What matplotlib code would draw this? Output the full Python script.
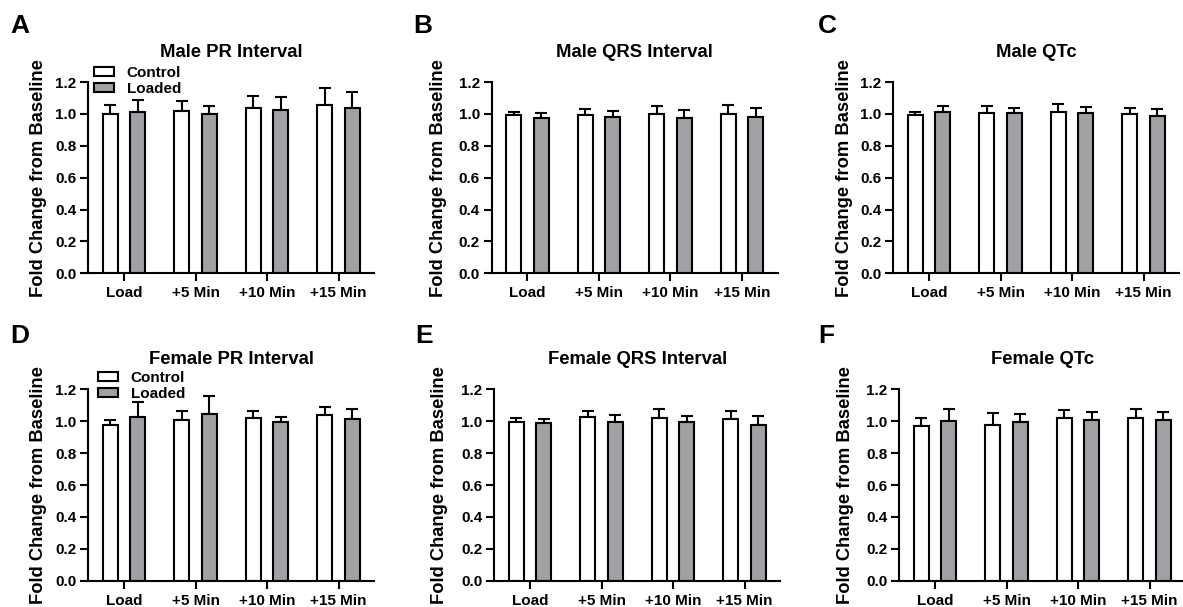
import matplotlib
matplotlib.use("Agg")
import matplotlib.pyplot as plt
import numpy as np
from matplotlib.patches import Patch

plt.rcParams['font.family'] = ['Liberation Sans', 'DejaVu Sans']
plt.rcParams['font.weight'] = 'bold'

categories = ["Load", "+5 Min", "+10 Min", "+15 Min"]
series_names = ["Control", "Loaded"]

titles = ["Male PR Interval", "Male QRS Interval", "Male QTc",
          "Female PR Interval", "Female QRS Interval", "Female QTc"]
letters = ["A", "B", "C", "D", "E", "F"]

# means (Control, Loaded) and upper error-bar tops
male_pr_control = [1.00, 1.02, 1.04, 1.055]
male_pr_loaded = [1.01, 1.00, 1.025, 1.04]
male_pr_control_err = [0.058, 0.058, 0.072, 0.108]
male_pr_loaded_err = [0.075, 0.052, 0.083, 0.098]

male_qrs_control = [0.99, 0.993, 0.997, 1.002]
male_qrs_loaded = [0.975, 0.98, 0.972, 0.98]
male_qrs_control_err = [0.022, 0.037, 0.05, 0.056]
male_qrs_loaded_err = [0.03, 0.04, 0.05, 0.058]

male_qtc_control = [0.99, 1.003, 1.01, 0.997]
male_qtc_loaded = [1.013, 1.003, 1.003, 0.984]
male_qtc_control_err = [0.02, 0.047, 0.053, 0.043]
male_qtc_loaded_err = [0.037, 0.032, 0.042, 0.049]

female_pr_control = [0.977, 1.008, 1.017, 1.042]
female_pr_loaded = [1.029, 1.044, 0.998, 1.012]
female_pr_control_err = [0.031, 0.057, 0.044, 0.044]
female_pr_loaded_err = [0.092, 0.117, 0.031, 0.065]

female_qrs_control = [0.994, 1.029, 1.023, 1.012]
female_qrs_loaded = [0.987, 0.994, 0.992, 0.979]
female_qrs_control_err = [0.025, 0.032, 0.052, 0.049]
female_qrs_loaded_err = [0.025, 0.046, 0.041, 0.054]

female_qtc_control = [0.971, 0.977, 1.017, 1.021]
female_qtc_loaded = [1.000, 0.998, 1.008, 1.008]
female_qtc_control_err = [0.05, 0.073, 0.054, 0.054]
female_qtc_loaded_err = [0.075, 0.046, 0.05, 0.048]

panels = [
    (male_pr_control, male_pr_loaded, male_pr_control_err, male_pr_loaded_err),
    (male_qrs_control, male_qrs_loaded, male_qrs_control_err, male_qrs_loaded_err),
    (male_qtc_control, male_qtc_loaded, male_qtc_control_err, male_qtc_loaded_err),
    (female_pr_control, female_pr_loaded, female_pr_control_err, female_pr_loaded_err),
    (female_qrs_control, female_qrs_loaded, female_qrs_control_err, female_qrs_loaded_err),
    (female_qtc_control, female_qtc_loaded, female_qtc_control_err, female_qtc_loaded_err),
]

W, H = 1183, 607
fig = plt.figure(figsize=(W / 100, H / 100), dpi=100)

# layout in pixels: (spine x, axis bottom y, axis top y)
spine_x = [88.3, 491.7, 893.3, 88.3, 494.3, 899.3]
bottoms = [273.3, 273.3, 273.3, 580.7, 580.7, 580.7]
tops = [82.0, 82.0, 82.0, 389.3, 389.3, 389.3]
axw = 286.0
ylabel_x = [-0.144, -0.156, -0.140, -0.144, -0.161, -0.160]
letter_pos = [(10, 33), (413, 33), (818, 33), (10, 342.7), (415, 342.7), (818, 342.7)]

gray = '#a0a0a5'
lw = 1.5
x = np.arange(len(categories))
off = 0.19
bw = 0.21

for i, (c, l, ce, le) in enumerate(panels):
    left = spine_x[i] / W
    bottom = 1 - bottoms[i] / H
    height = (bottoms[i] - tops[i]) / H
    ax = fig.add_axes([left, bottom, axw / W, height])
    b1 = ax.bar(x - off, c, bw, color='white', edgecolor='black', linewidth=lw, zorder=2)
    b2 = ax.bar(x + off, l, bw, color=gray, edgecolor='black', linewidth=lw, zorder=2)
    ax.errorbar(x - off, c, yerr=[np.zeros(4), ce], fmt='none', ecolor='black',
                elinewidth=lw, capsize=4, capthick=lw, zorder=1)
    ax.errorbar(x + off, l, yerr=[np.zeros(4), le], fmt='none', ecolor='black',
                elinewidth=lw, capsize=4, capthick=lw, zorder=1)
    ax.set_xlim(-0.5, 3.5)
    ax.set_ylim(0, 1.2)
    ax.set_yticks([0.0, 0.2, 0.4, 0.6, 0.8, 1.0, 1.2])
    ax.set_yticklabels(["0.0", "0.2", "0.4", "0.6", "0.8", "1.0", "1.2"])
    ax.set_xticks(x)
    ax.set_xticklabels(categories)
    for s in ['top', 'right']:
        ax.spines[s].set_visible(False)
    for s in ['left', 'bottom']:
        ax.spines[s].set_linewidth(lw)
    ax.spines['bottom'].set_zorder(3)
    ax.tick_params(axis='both', width=lw, length=5.5, labelsize=11, pad=3)
    ax.tick_params(axis='x', pad=4)
    for t in ax.get_xticklabels() + ax.get_yticklabels():
        t.set_fontweight('bold')
    ax.set_title(titles[i], fontsize=13.3, fontweight='bold', pad=18)
    ax.set_ylabel("Fold Change from Baseline", fontsize=13.2, fontweight='bold')
    ax.yaxis.set_label_coords(ylabel_x[i], 0.5)
    ax.patch.set_visible(False)
    if i in (0, 3):
        handles = [Patch(facecolor='white', edgecolor='black', linewidth=lw),
                   Patch(facecolor=gray, edgecolor='black', linewidth=lw)]
        lx = 0.02 if i == 0 else 0.033
        ly = 1.005 if i == 0 else 1.017
        ax.legend(handles, series_names, loc='center left', bbox_to_anchor=(lx, ly),
                  frameon=False, fontsize=11, prop={'weight': 'bold', 'size': 11},
                  handlelength=1.3, handleheight=0.52, handletextpad=0.85,
                  labelspacing=0.16, borderpad=0, borderaxespad=0)
    fx, fy = letter_pos[i]
    fig.text(fx / W, 1 - fy / H, letters[i], fontsize=19, fontweight='bold',
             ha='left', va='baseline')

fig.savefig("out.png", dpi=100)
